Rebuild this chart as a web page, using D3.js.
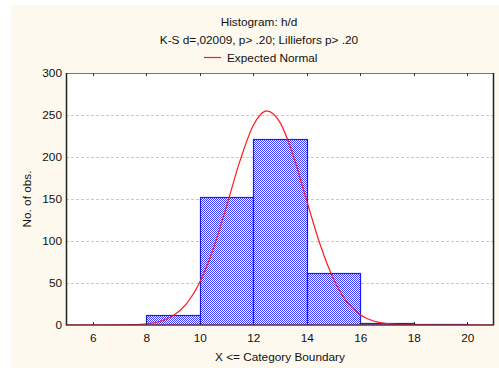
<!DOCTYPE html>
<html><head><meta charset="utf-8">
<script src="https://cdn.jsdelivr.net/npm/d3@7"></script>
<style>
body{margin:0;background:#fff;}
svg{display:block;font-family:"Liberation Sans",Arial,sans-serif;}
</style></head>
<body>
<svg id="chart" width="499" height="368"></svg>
<script>
const binStarts = [6, 8, 10, 12, 14, 16, 18];
const binWidth = 2;
const counts = [0, 12, 152, 221, 62, 2, 1];
const curveX = [5,6,7,7.5,8,8.5,9,9.5,10,10.5,11,11.5,12,12.5,13,13.5,14,14.5,15,15.5,16,16.5,17,18,19,20,21];
const curveY = [0,0,0.1,0.4,1.4,4.2,11,25.2,50.8,90.2,141.3,195.1,237.6,255,241.2,201.2,147.7,95.8,54.7,27.5,12.2,4.8,1.65,0.13,0,0,0];
const xTicks = [6,8,10,12,14,16,18,20];
const yTicks = [0,50,100,150,200,250,300];
const title = "Histogram: h/d";
const subtitle = "K-S d=,02009, p> .20; Lilliefors p> .20";
const legendLabel = "Expected Normal";

const FS = 11.8;
const svg = d3.select("#chart");
const L = 66, R = 494, T = 73, B = 325;
svg.append("rect").attr("x",11).attr("y",5).attr("width",488).attr("height",363).attr("fill","#fdf9ee");
const x = d3.scaleLinear().domain([5,21]).range([L,R]);
const y = d3.scaleLinear().domain([0,300]).range([B,T]);

const defs = svg.append("defs");
const pat = defs.append("pattern").attr("id","hatch").attr("patternUnits","userSpaceOnUse")
  .attr("width",2).attr("height",2);
pat.append("rect").attr("width",2).attr("height",2).attr("fill","#ffffff");
pat.append("rect").attr("x",0).attr("y",0).attr("width",1).attr("height",1).attr("fill","#3a3aff");
pat.append("rect").attr("x",1).attr("y",1).attr("width",1).attr("height",1).attr("fill","#3a3aff");
defs.append("clipPath").attr("id","clip").append("rect").attr("x",L).attr("y",T).attr("width",R-L).attr("height",B-T);

svg.append("rect").attr("x",L).attr("y",T).attr("width",R-L).attr("height",B-T).attr("fill","#fff");

// grid
svg.append("g").selectAll("line").data(yTicks.filter(d=>d>0&&d<300)).join("line")
  .attr("x1",L).attr("x2",R).attr("y1",d=>Math.round(y(d))+0.5).attr("y2",d=>Math.round(y(d))+0.5)
  .attr("stroke","#c8c8c8").attr("stroke-dasharray","3,2");

// bars
svg.append("g").attr("clip-path","url(#clip)").selectAll("rect").data(binStarts).join("rect")
  .attr("x",(d)=>Math.round(x(d))+0.5).attr("y",(d,i)=>Math.round(y(counts[i]))+0.5)
  .attr("width",d=>Math.round(x(d+binWidth))-Math.round(x(d))).attr("height",(d,i)=>Math.round(y(0))-Math.round(y(counts[i])))
  .attr("fill","url(#hatch)").attr("stroke","#1a1aee").attr("stroke-width",1.2);

// curve
const line = d3.line().x((d,i)=>x(curveX[i])).y(d=>y(d)).curve(d3.curveMonotoneX);
svg.append("path").attr("clip-path","url(#clip)").datum(curveY).attr("d",line)
  .attr("fill","none").attr("stroke","#ff1a1a").attr("stroke-width",1.2);

// frame
svg.append("line").attr("x1",L).attr("x2",R).attr("y1",T+0.5).attr("y2",T+0.5).attr("stroke","#777");
svg.append("line").attr("x1",R-0.5).attr("x2",R-0.5).attr("y1",T).attr("y2",B).attr("stroke","#222").attr("stroke-width",1.5);
svg.append("line").attr("x1",L+0.5).attr("x2",L+0.5).attr("y1",T).attr("y2",B+0.5).attr("stroke","#222").attr("stroke-width",1.5);
svg.append("line").attr("x1",L).attr("x2",R).attr("y1",B).attr("y2",B).attr("stroke","#6a2a3a").attr("stroke-width",1.5);

// axes
const xAxis = d3.axisBottom(x).tickValues(xTicks).tickSize(0).tickPadding(9);
const gx = svg.append("g").attr("transform",`translate(0,${B})`).call(xAxis);
gx.select(".domain").remove();
gx.selectAll("text").attr("font-size",FS).attr("fill","#111").attr("font-family","Liberation Sans, Arial, sans-serif");
svg.append("g").selectAll("line").data(xTicks).join("line")
  .attr("x1",d=>Math.round(x(d))+0.5).attr("x2",d=>Math.round(x(d))+0.5).attr("y1",T).attr("y2",T+3).attr("stroke","#333");
svg.append("g").selectAll("line").data(xTicks).join("line")
  .attr("x1",d=>Math.round(x(d))+0.5).attr("x2",d=>Math.round(x(d))+0.5).attr("y1",B-3).attr("y2",B).attr("stroke","#333");

const yAxis = d3.axisLeft(y).tickValues(yTicks).tickSize(0).tickPadding(4);
const gy = svg.append("g").attr("transform",`translate(${L},0)`).call(yAxis);
gy.select(".domain").remove();
gy.selectAll("text").attr("font-size",FS).attr("fill","#111").attr("font-family","Liberation Sans, Arial, sans-serif");

// titles
svg.append("text").attr("x",259).attr("y",26).attr("text-anchor","middle").attr("font-size",FS).attr("fill","#111").text(title);
svg.append("text").attr("x",259).attr("y",44).attr("text-anchor","middle").attr("font-size",FS).attr("fill","#111").text(subtitle);
svg.append("line").attr("x1",204).attr("x2",221).attr("y1",57.5).attr("y2",57.5).attr("stroke","#ff1a1a").attr("stroke-width",1.2);
svg.append("text").attr("x",227).attr("y",61.5).attr("font-size",FS).attr("fill","#111").text(legendLabel);
svg.append("text").attr("x",280).attr("y",361).attr("text-anchor","middle").attr("font-size",FS).attr("fill","#111").text("X <= Category Boundary");
svg.append("text").attr("transform","translate(31,199) rotate(-90)").attr("text-anchor","middle").attr("font-size",FS).attr("fill","#111").text("No. of obs.");
</script>
</body></html>
